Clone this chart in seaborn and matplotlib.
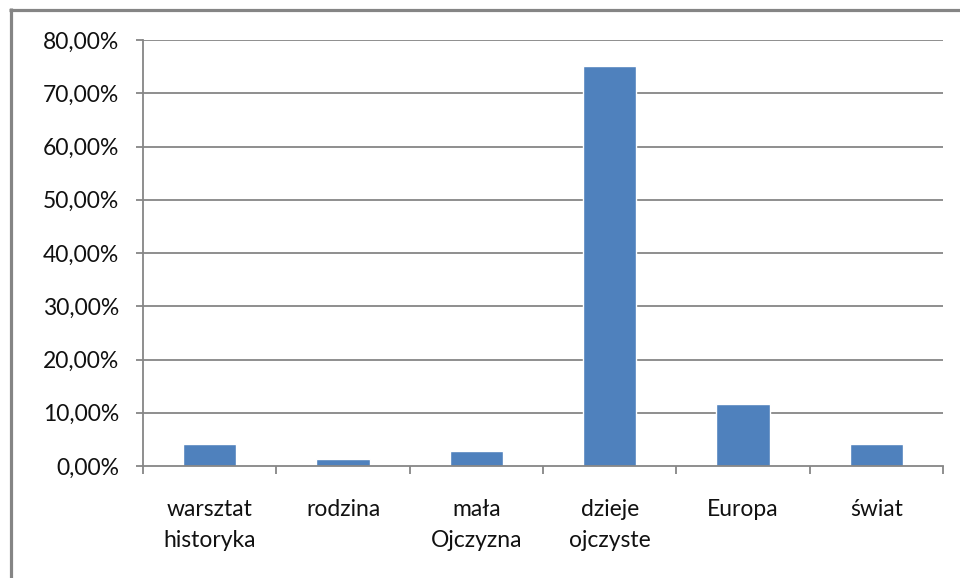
import matplotlib
matplotlib.use("Agg")
import matplotlib.pyplot as plt
import seaborn as sns
import pandas as pd
from matplotlib.ticker import FuncFormatter, FixedLocator
from matplotlib.lines import Line2D

categories = ["warsztat\nhistoryka", "rodzina", "mała\nOjczyzna", "dzieje\nojczyste", "Europa", "świat"]
values = [4.17, 1.30, 2.80, 75.1, 11.55, 4.17]
yticks = [0, 10, 20, 30, 40, 50, 60, 70, 80]

sns.set_theme(style="white")
plt.rcParams['font.family'] = ['Lato', 'DejaVu Sans']

df = pd.DataFrame({"cat": categories, "val": values})

fig = plt.figure(figsize=(9.6, 5.78), dpi=100)
ax = fig.add_axes([143/960, 1-466/578, (943-143)/960, (466-40)/578])

grid_c = "#868686"
for t in yticks[1:]:
    ax.axhline(t, color=grid_c, lw=1.3, zorder=0)

sns.barplot(data=df, x="cat", y="val", color="#4F81BD", width=0.4, saturation=1, ax=ax, zorder=2)

ax.set_xlim(-0.5, len(categories) - 0.5)
ax.set_ylim(0, 80)
ax.set_yticks(yticks)
ax.yaxis.set_major_formatter(FuncFormatter(lambda v, p: f"{v:.2f}".replace(".", ",") + "%"))
ax.set_xlabel("")
ax.set_ylabel("")

for s in ["top", "right"]:
    ax.spines[s].set_visible(False)
for s in ["left", "bottom"]:
    ax.spines[s].set_color(grid_c)
    ax.spines[s].set_linewidth(1.3)

ax.tick_params(axis="y", which="major", length=5, width=1.3, color=grid_c, direction="out",
               labelsize=16.5, pad=12, left=True, labelcolor="#111111")
ax.tick_params(axis="x", which="major", length=0, labelsize=16.5, pad=24, labelcolor="#111111")
for lab in ax.get_xticklabels():
    lab.set_linespacing(1.55)
ax.xaxis.set_minor_locator(FixedLocator([i - 0.5 for i in range(len(categories) + 1)]))
ax.tick_params(axis="x", which="minor", length=6, width=1.3, color=grid_c, direction="out", bottom=True)

border_c = "#858585"
fig.lines.append(Line2D([9/960, 1.0], [1 - 9.5/578, 1 - 9.5/578], transform=fig.transFigure,
                        color=border_c, lw=2.3, solid_capstyle="butt"))
fig.lines.append(Line2D([10.5/960, 10.5/960], [1 - 8/578, 0.0], transform=fig.transFigure,
                        color=border_c, lw=2.3, solid_capstyle="butt"))

fig.savefig("out.png", dpi=100)
